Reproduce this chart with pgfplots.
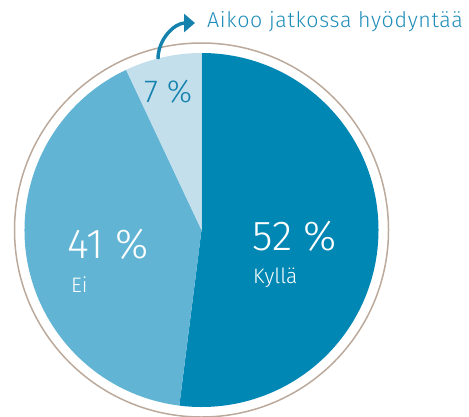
\documentclass[border=0pt]{standalone}
\usepackage{fontspec}
\setmainfont{Fira Sans Light}
\usepackage{pgfplots}
\usepackage{pgfplotstable}
\pgfplotsset{compat=1.18}
\usetikzlibrary{arrows.meta}
\definecolor{kylla}{HTML}{0087B4}
\definecolor{ei}{HTML}{62B4D4}
\definecolor{aikoo}{HTML}{C3DFEC}
\definecolor{ring}{HTML}{BBA99B}
\definecolor{txtblue}{HTML}{1E8DB9}
\definecolor{sevenblue}{HTML}{1582AE}
\pgfplotstableread{
label value color
Kyllä 52 kylla
Ei 41 ei
Aikoo 7 aikoo
}\piedata
\begin{document}
\begin{tikzpicture}
\begin{axis}[hide axis, x=1bp, y=1bp, xmin=0, xmax=469, ymin=0, ymax=416,
  scale only axis, clip=true]
\pgfplotsextra{
  \path (rel axis cs:0,0) rectangle (rel axis cs:1,1);
  \xdef\start{90}
  \foreach \i in {0,1,2} {
    \pgfplotstablegetelem{\i}{value}\of\piedata \global\let\v\pgfplotsretval
    \pgfplotstablegetelem{\i}{color}\of\piedata \global\let\c\pgfplotsretval
    \pgfmathsetmacro\en{\start-3.6*\v}
    \pgfmathsetmacro\sx{201.5+177*cos(\start)}
    \pgfmathsetmacro\sy{186+177*sin(\start)}
    \fill[\c] (axis cs:201.5,186) -- (axis cs:\sx,\sy)
      arc[start angle=\start, end angle=\en, radius=177bp] -- cycle;
    \xdef\start{\en}
  }
  \draw[ring, line width=1.5bp] (axis cs:201.5,186) circle[radius=187bp];
  \draw[sevenblue, line width=3.4bp, -{Triangle[length=11bp,width=18bp]}]
    (axis cs:158,357) to[out=90, in=180] (axis cs:195,393);
}
\node[anchor=base west, inner sep=0, white, font=\fontsize{42}{42}\selectfont] at (axis cs:252,166) {52~\%};
\node[anchor=base west, inner sep=0, white, font=\fontsize{21}{21}\selectfont] at (axis cs:253,133) {Kyllä};
\node[anchor=base west, inner sep=0, white, font=\fontsize{42}{42}\selectfont] at (axis cs:67,158) {41~\%};
\node[anchor=base west, inner sep=0, white, font=\fontsize{21}{21}\selectfont] at (axis cs:71,124) {Ei};
\node[anchor=base west, inner sep=0, sevenblue, font=\fontsize{32}{32}\selectfont] at (axis cs:144,314) {7~\%};
\node[anchor=base west, inner sep=0, txtblue, font=\fontsize{21.5}{21.5}\selectfont\addfontfeatures{LetterSpace=3}] at (axis cs:207,388) {Aikoo jatkossa hyödyntää};
\end{axis}
\end{tikzpicture}
\end{document}
